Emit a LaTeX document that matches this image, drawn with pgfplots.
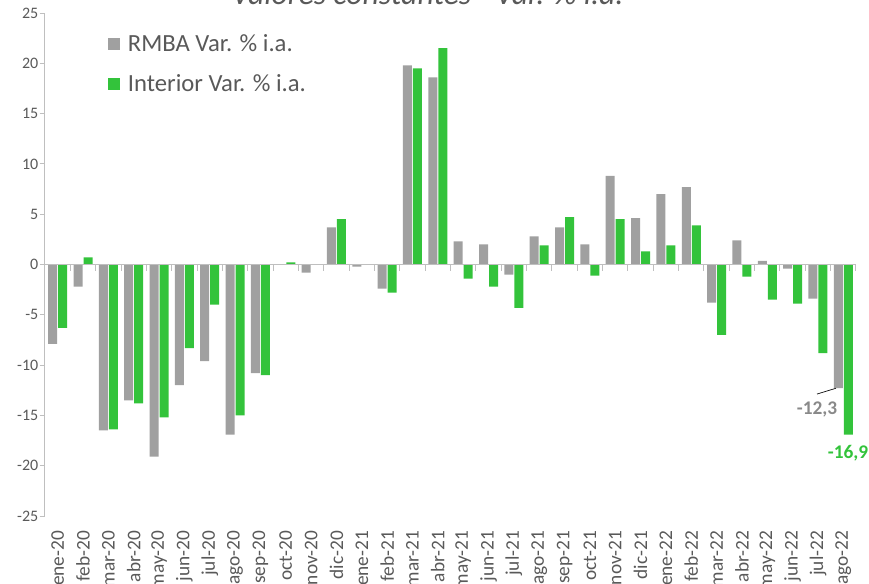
\documentclass[border=0pt]{standalone}
\usepackage{fontspec}
\setmainfont{Carlito}
\usepackage{pgfplots}
\usepackage{pgfplotstable}
\pgfplotsset{compat=1.18}

\definecolor{rmba}{HTML}{A0A0A0}
\definecolor{interior}{HTML}{33C33B}
\definecolor{textgray}{HTML}{595959}
\definecolor{axisgray}{HTML}{BFBFBF}
\definecolor{lblgray}{HTML}{898989}

% variacion % interanual, valores constantes
\pgfplotstableread{
x  rmba  interior
0  -7.9  -6.3
1  -2.2  0.7
2  -16.5 -16.4
3  -13.5 -13.8
4  -19.1 -15.2
5  -12.0 -8.3
6  -9.6  -4.0
7  -16.9 -15.0
8  -10.8 -11.0
9  0.0   0.2
10 -0.8  0.05
11 3.7   4.5
12 -0.2  0.05
13 -2.4  -2.8
14 19.8  19.5
15 18.6  21.5
16 2.3   -1.4
17 2.0   -2.2
18 -1.0  -4.3
19 2.8   1.9
20 3.7   4.7
21 2.0   -1.1
22 8.8   4.5
23 4.6   1.3
24 7.0   1.9
25 7.7   3.9
26 -3.8  -7.0
27 2.4   -1.2
28 0.35  -3.5
29 -0.4  -3.9
30 -3.4  -8.8
31 -12.3 -16.9
}\datos

\begin{document}
\begin{tikzpicture}
\begin{axis}[
  scale only axis,
  width=608.25pt, height=377.25pt,
  xmin=-0.5, xmax=31.5,
  ymin=-25, ymax=25,
  ytick={-25,-20,...,25},
  xtick={0,...,31},
  xticklabels={ene-20,feb-20,mar-20,abr-20,may-20,jun-20,jul-20,ago-20,sep-20,oct-20,nov-20,dic-20,
    ene-21,feb-21,mar-21,abr-21,may-21,jun-21,jul-21,ago-21,sep-21,oct-21,nov-21,dic-21,
    ene-22,feb-22,mar-22,abr-22,may-22,jun-22,jul-22,ago-22},
  axis y line*=left,
  axis x line*=bottom,
  x axis line style={draw=none},
  y axis line style={draw=axisgray, line width=0.75pt},
  xtick style={draw=none},
  ytick style={draw=axisgray, line width=0.75pt},
  tick align=outside,
  major tick length=4pt,
  /pgf/number format/assume math mode=true,
  ticklabel style={text=textgray},
  yticklabel style={font=\fontsize{12}{14}\selectfont, xshift=2.5pt},
  xticklabel style={font=\fontsize{14.5}{16}\selectfont, inner sep=0pt,
    yshift=-7pt, rotate=90, anchor=east},
  clip=false,
  ybar,
  bar width=6.75pt,
  legend image code/.code={\fill[#1] (0pt,-4.5pt) rectangle (9pt,4.5pt); \path (12.75pt,0pt);},
  legend style={at={(rel axis cs:0.0777,0.963)}, anchor=north west,
    draw=none, fill=none, inner sep=0pt,
    font=\fontsize{18.5}{22}\selectfont, text=textgray,
    row sep=11.5pt, cells={anchor=west}},
]
\addplot[fill=rmba, draw=none, bar shift=-3.75pt] table[x=x, y=rmba] {\datos};
\addlegendentry{RMBA Var. \% i.a.}
\addplot[fill=interior, draw=none, bar shift=3.75pt] table[x=x, y=interior] {\datos};
\addlegendentry{Interior Var. \% i.a.}

% linea del cero con marcas entre categorias
\draw[axisgray, line width=0.75pt] (axis cs:-0.5,0) -- (axis cs:31.5,0);
\pgfplotsinvokeforeach{0,...,32}{
  \draw[axisgray, line width=0.75pt] (axis cs:#1-0.5,0) -- ++(0pt,-4.5pt);
}

% etiquetas del ultimo dato
\draw[black, line width=0.5pt] (axis cs:31,-12.3) ++(-19.7pt,-4.35pt) -- ++(14.2pt,4.35pt);
\node[font=\fontsize{14.5}{16}\selectfont\bfseries, text=lblgray]
  at (axis cs:31,-12.3) [xshift=-19.7pt, yshift=-15.75pt] {-12,3};
\node[font=\fontsize{14.5}{16}\selectfont\bfseries, text=interior]
  at (axis cs:31,-16.9) [xshift=3.5pt, yshift=-13.7pt] {-16,9};
\end{axis}

\node[font=\fontsize{23.8}{28}\selectfont\itshape, text=textgray, anchor=base]
  at (286.9pt,383.7pt) {Valores constantes - Var. \% i.a.};

\pgfresetboundingbox
\useasboundingbox (-33.75pt,-50.25pt) rectangle (618pt,387pt);
\end{tikzpicture}
\end{document}
